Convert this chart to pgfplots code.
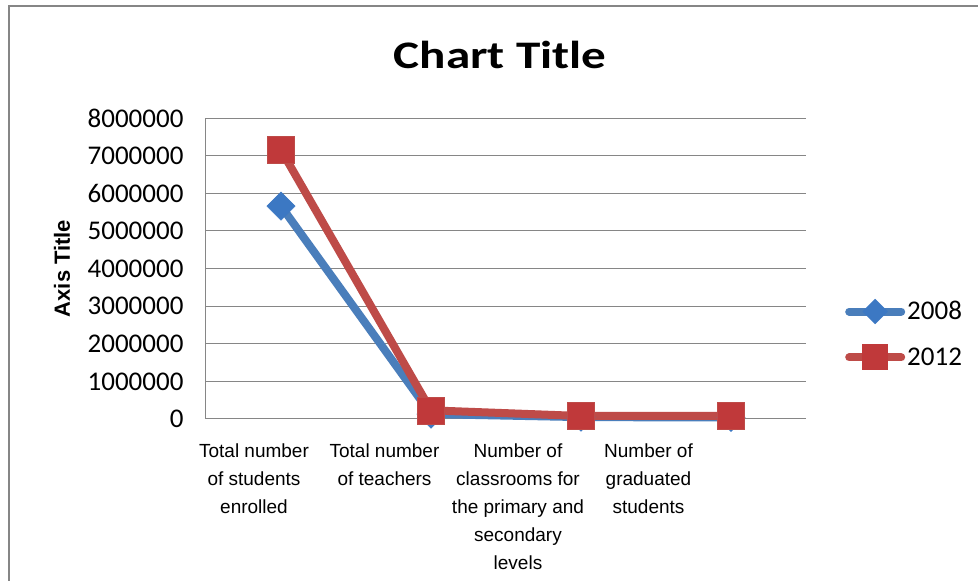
\documentclass[border=0pt]{standalone}
\usepackage{pgfplots}
\pgfplotsset{compat=1.18}
\usepackage{fontspec}
\setmainfont{Carlito}
\newfontfamily\arialfont{Liberation Sans}
\definecolor{xlblue}{HTML}{4A7EBB}
\definecolor{xlbluem}{HTML}{3C78C3}
\definecolor{xlred}{HTML}{BE4B48}
\definecolor{xlredm}{HTML}{C0393A}
\definecolor{gridgray}{HTML}{868686}
\begin{document}
\begin{tikzpicture}[x=1pt,y=1pt]
\clip (0,0) rectangle (978,581);
\fill[white] (0,0) rectangle (978,581);
\draw[gridgray, line width=2pt] (9,-10) -- (9,575) -- (1000,575);
\begin{axis}[
  at={(206pt,162pt)}, anchor=south west,
  scale only axis, width=600pt, height=301pt,
  xmin=-0.5, xmax=3.5, ymin=0, ymax=8000000,
  scaled y ticks=false,
  axis x line*=bottom, axis y line*=left,
  axis line style={-, gridgray, line width=1pt},
  ymajorgrids, grid style={gridgray, line width=1pt},
  major tick length=0pt,
  ytick={0,1000000,2000000,3000000,4000000,5000000,6000000,7000000,8000000},
  yticklabels={0,1000000,2000000,3000000,4000000,5000000,6000000,7000000,8000000},
  yticklabel style={font=\fontsize{27}{31}\selectfont, xshift=-19pt},
  xtick={-0.18,0.69,1.58,2.45},
  xticklabels={{Total number\\of students\\enrolled},{Total number\\of teachers},{Number of\\classrooms for\\the primary and\\secondary\\levels},{Number of\\graduated\\students}},
  xticklabel style={align=center, font=\arialfont\fontsize{19}{28}\selectfont, yshift=-21pt},
  title={\scalebox{1.26}[1]{Chart Title}},
  title style={font=\bfseries\fontsize{39}{44}\selectfont, at={(0.49,1)}, anchor=center, yshift=57pt},
  ylabel={Axis Title},
  ylabel style={font=\arialfont\bfseries\fontsize{22}{26}\selectfont, at={(axis description cs:-0.24,0.5)}, anchor=center},
  legend style={at={(1,0.279)}, anchor=west, xshift=36pt, draw=none, fill=none,
    font=\fontsize{27}{31}\selectfont, row sep=21pt},
  legend cell align=left,
  clip=false,
]
\addplot[color=xlblue, line width=8pt, mark=square*, mark size=10pt,
  mark options={rotate=45, fill=xlbluem, draw=xlbluem, line width=0.5pt},
  legend image code/.code={\draw[xlblue, line width=8pt, line cap=round] (4pt,0pt) -- (56pt,0pt);
    \fill[xlbluem, rotate around={45:(30pt,0pt)}] (25pt,-5pt) rectangle (35pt,5pt);}]
  coordinates {(0,5660000) (1,130000) (2,50000) (3,40000)};
\addlegendentry{2008}
\addplot[color=xlred, line width=8pt, mark=square*, mark size=13.5pt,
  mark options={fill=xlredm, draw=xlred, line width=0.5pt},
  legend image code/.code={\draw[xlred, line width=8pt, line cap=round] (4pt,0pt) -- (56pt,0pt);
    \fill[xlredm] (21pt,-9pt) rectangle (39pt,9pt);}]
  coordinates {(0,7150000) (1,230000) (2,80000) (3,80000)};
\addlegendentry{2012}
\end{axis}
\end{tikzpicture}
\end{document}
